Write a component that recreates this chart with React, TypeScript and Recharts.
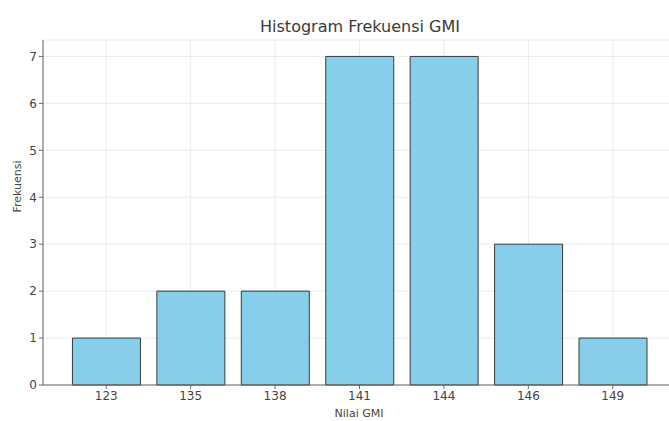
import { Bar, BarChart, CartesianGrid, XAxis, YAxis } from 'recharts';

const categories = ['123', '135', '138', '141', '144', '146', '149'];
const frequencies = [1, 2, 2, 7, 7, 3, 1];
const yTicks = [0, 1, 2, 3, 4, 5, 6, 7];

const data = categories.map((c, i) => ({ nilai: c, frekuensi: frequencies[i] }));

const font = 'DejaVu Sans, sans-serif';

export default function App() {
  return (
    <div style={{ position: 'absolute', left: 0, top: 0, width: 669, height: 421, overflow: 'hidden', background: '#fff', fontFamily: font }}>
      <div
        style={{
          position: 'absolute',
          top: 17,
          left: 0,
          width: 720,
          textAlign: 'center',
          fontSize: 16,
          color: '#3a3a3a',
        }}
      >
        Histogram Frekuensi GMI
      </div>
      <BarChart
        width={700}
        height={421}
        data={data}
        margin={{ top: 40, right: 25, bottom: 0, left: 0 }}
        barCategoryGap="10%"
      >
        <CartesianGrid stroke="#e6e6e6" strokeWidth={0.8} />
        <XAxis
          dataKey="nilai"
          height={36}
          padding={{ left: 21, right: 20 }}
          stroke="#666"
          tickSize={4}
          tickMargin={2}
          tick={{ fill: '#444', fontSize: 12, fontFamily: font }}
          label={{ value: 'Nilai GMI', position: 'insideBottom', offset: 4, fill: '#444', fontSize: 11, fontFamily: font }}
        />
        <YAxis
          width={43}
          domain={[0, 7.35]}
          ticks={yTicks}
          stroke="#666"
          tickSize={4}
          tickMargin={2}
          tick={{ fill: '#444', fontSize: 12, fontFamily: font }}
          label={{ value: 'Frekuensi', angle: -90, position: 'insideLeft', offset: 17, fill: '#444', fontSize: 11, fontFamily: font }}
        />
        <Bar dataKey="frekuensi" fill="#87CEEB" stroke="#3a3a3a" strokeWidth={1} isAnimationActive={false} />
      </BarChart>
    </div>
  );
}
